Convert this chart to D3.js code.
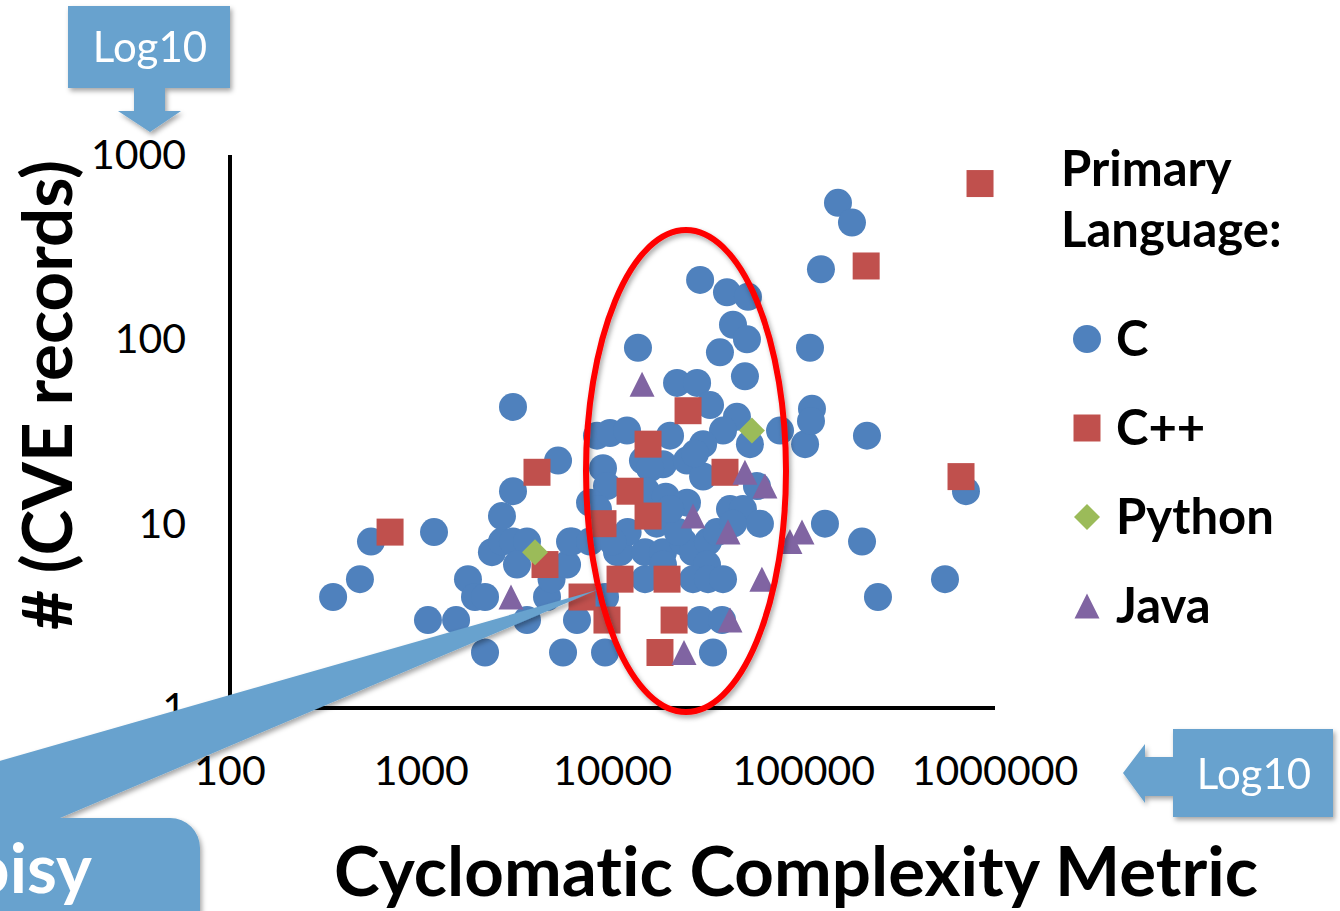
<!DOCTYPE html>
<html>
<head>
<meta charset="utf-8">
<script src="https://cdn.jsdelivr.net/npm/d3@7"></script>
<style>
  html, body { margin: 0; padding: 0; background: #fff; }
  svg { display: block; font-family: Lato, 'Open Sans', sans-serif; font-variant-ligatures: none; }
</style>
</head>
<body>
<svg id="chart" width="1340" height="911"></svg>
<script>
'use strict'

// tick values on the two log axes
const xTicks = [100, 1000, 10000, 100000, 1000000]
const yTicks = [1, 10, 100, 1000]

// C projects: cyclomatic complexity / CVE records
const cComplexity = [
  346, 478, 546, 1166, 1084, 1521, 1755, 1910, 2155, 2155, 2342, 2643, 2643, 3018,
  3018, 3018, 3573, 3167, 4546, 3573, 5192, 5513, 6144, 6520, 4800, 5786,
  5995, 7627, 8297, 9704, 11910, 8918, 9355, 7627, 8395, 9140, 9140, 10560, 10950,
  13590, 14430, 16680, 18360, 14790, 14790, 18360, 18360, 19990, 15710, 21750, 27690,
  32360, 28710, 39690, 51090, 42660, 50480, 36460, 49270, 44740, 37830, 29760,
  24520, 29760, 24520, 23380, 28710, 26360, 31570, 31200, 35170, 41140, 48090,
  52310, 59000, 56900, 42660, 26360, 31570, 37830, 28710, 37390, 33530, 27020,
  15000, 19000, 17000, 22000, 12000, 10000, 20000,
  75160, 101600, 110400, 109100, 107800, 123000, 151000, 178700, 129100, 201700,
  214100, 244400, 547700, 705000
]
const cCves = [
  4, 5, 8, 9, 3, 3, 5, 4, 4, 2, 7, 8, 11, 15,
  43, 8, 8, 6, 4, 3, 22, 2, 8, 3, 5, 6,
  8, 8, 30, 31, 32, 20, 16, 13, 12, 4, 2, 7, 7,
  90, 22, 21, 21, 5, 7, 7, 6, 30, 20, 58, 58,
  44, 210, 180, 170, 120, 100, 85, 63, 38, 32, 27,
  22, 18, 13, 8, 7, 7, 8, 6, 9, 12, 12,
  27, 10, 16, 10, 5, 5, 5, 3, 3, 2, 24,
  15, 14, 10, 9, 9, 8, 12,
  32, 27, 42, 36, 90, 240, 550, 430, 10, 8,
  30, 4, 5, 15
]

// C++ projects
const cppComplexity = [687, 4029, 4436, 6929, 9355, 8918, 12350, 15340, 15340, 24830,
  38740, 10950, 19280, 20990, 17710, 212000, 835000, 664200]
const cppCves = [9, 19, 6, 4, 3, 10, 15, 11, 27, 41, 19, 5, 5, 3, 2, 250, 700, 18]

// Python projects
const pyComplexity = [3935, 53580]
const pyCves = [7, 32]

// Java projects
const javaComplexity = [2946, 14270, 26360, 40170, 49270, 62660, 60420, 41140, 23660, 97900, 84700]
const javaCves = [4, 57, 11, 9, 19, 16, 5, 3, 2, 9, 8]

const languages = ['C', 'C++', 'Python', 'Java']
const colors = ['#4F81BD', '#C0504D', '#9BBB59', '#8064A2']

const svg = d3.select('#chart')
const calloutBlue = '#67A2CE'

const x = d3.scaleLog().domain([100, 1000000]).range([230, 995])
const y = d3.scaleLog().domain([1, 1000]).range([708, 155])

// drop shadow used by the callouts
const defs = svg.append('defs')
const shadow = defs.append('filter').attr('id', 'shadow')
  .attr('x', '-20%').attr('y', '-20%').attr('width', '140%').attr('height', '140%')
shadow.append('feDropShadow').attr('dx', 2).attr('dy', 3)
  .attr('stdDeviation', 2.5).attr('flood-color', '#000').attr('flood-opacity', 0.35)

// marker shapes, Excel style
const tri = {
  draw (ctx, size) {
    const h = Math.sqrt(size)
    ctx.moveTo(0, -h / 2)
    ctx.lineTo(h / 2, h / 2)
    ctx.lineTo(-h / 2, h / 2)
    ctx.closePath()
  }
}
const diamond = {
  draw (ctx, size) {
    const h = Math.sqrt(size) / 2
    ctx.moveTo(0, -h)
    ctx.lineTo(h, 0)
    ctx.lineTo(0, h)
    ctx.lineTo(-h, 0)
    ctx.closePath()
  }
}
const shapes = [
  d3.symbol().type(d3.symbolCircle).size(Math.PI * 14 * 14),
  d3.symbol().type(d3.symbolSquare).size(27 * 27),
  d3.symbol().type(diamond).size(26 * 26),
  d3.symbol().type(tri).size(25 * 25)
]

// axes (no tick marks, only the lines and labels)
svg.append('line').attr('x1', x(100)).attr('x2', x(100))
  .attr('y1', y(1000)).attr('y2', y(1) + 2)
  .attr('stroke', '#000').attr('stroke-width', 4)
svg.append('line').attr('x1', x(100) - 2).attr('x2', x(1000000))
  .attr('y1', y(1)).attr('y2', y(1))
  .attr('stroke', '#000').attr('stroke-width', 4)

svg.append('g').selectAll('text').data(xTicks).join('text')
  .attr('x', (d) => x(d)).attr('y', 785)
  .attr('text-anchor', 'middle')
  .attr('font-size', 41)
  .text((d) => d)

svg.append('g').selectAll('text').data(yTicks).join('text')
  .attr('x', 186).attr('y', (d) => y(d) + 14)
  .attr('text-anchor', 'end')
  .attr('font-size', 41)
  .text((d) => d)

svg.append('text')
  .attr('transform', 'translate(72, 395) rotate(-90)')
  .attr('text-anchor', 'middle')
  .attr('font-size', 69).attr('font-weight', 'bold')
  .text('# (CVE records)')

svg.append('text')
  .attr('x', 796).attr('y', 896)
  .attr('text-anchor', 'middle')
  .attr('font-size', 69).attr('font-weight', 'bold')
  .text('Cyclomatic Complexity Metric')

// points
const series = [
  [cComplexity, cCves],
  [cppComplexity, cppCves],
  [pyComplexity, pyCves],
  [javaComplexity, javaCves]
]
series.forEach(([xs, ys], i) => {
  svg.append('g').selectAll('path')
    .data(xs.map((v, k) => [v, ys[k]]))
    .join('path')
    .attr('transform', (d) => `translate(${x(d[0])},${y(d[1])})`)
    .attr('d', shapes[i])
    .attr('fill', colors[i])
})

// legend
const legend = svg.append('g').attr('font-weight', 'bold').attr('font-size', 49)
legend.append('text').attr('x', 1061).attr('y', 186).text('Primary')
legend.append('text').attr('x', 1061).attr('y', 247).text('Language:')
const items = legend.selectAll('g.item').data(languages).join('g')
  .attr('class', 'item')
  .attr('transform', (d, i) => `translate(1087, ${339 + i * 89})`)
items.append('path').attr('d', (d, i) => shapes[i]()).attr('fill', (d, i) => colors[i])
items.append('text').attr('x', 29).attr('y', 17).text((d) => d)

// red ellipse around the middle band
svg.append('ellipse')
  .attr('cx', 686).attr('cy', 471).attr('rx', 100).attr('ry', 241)
  .attr('fill', 'none').attr('stroke', '#FF0000').attr('stroke-width', 6)
  .attr('filter', 'url(#shadow)')

// "Log10" callout pointing at the y axis
const topCall = svg.append('g').attr('filter', 'url(#shadow)')
topCall.append('path')
  .attr('d', 'M68,6 H230 V88 H165 V111 H181 L150,132 L118,111 H134 V88 H68 Z')
  .attr('fill', calloutBlue)
topCall.append('text').attr('x', 150).attr('y', 62)
  .attr('text-anchor', 'middle').attr('font-size', 42).attr('fill', '#fff')
  .text('Log10')

// "Log10" callout pointing at the x axis
const rightCall = svg.append('g').attr('filter', 'url(#shadow)')
rightCall.append('path')
  .attr('d', 'M1173,729 H1333 V817 H1173 V796 H1145 V803 L1123,773 L1145,744 V757 H1173 Z')
  .attr('fill', calloutBlue)
rightCall.append('text').attr('x', 1254).attr('y', 789)
  .attr('text-anchor', 'middle').attr('font-size', 42).attr('fill', '#fff')
  .text('Log10')

// "Noisy" callout in the lower left corner (cut by the page edge, as in the original)
const noisy = svg.append('g').attr('filter', 'url(#shadow)')
noisy.append('path')
  .attr('d', 'M-200,818 L597,590 L60,818 H170 A30,30 0 0 1 200,848 V960 H-200 Z')
  .attr('fill', calloutBlue)
noisy.append('text').attr('x', 92).attr('y', 893)
  .attr('text-anchor', 'end').attr('font-size', 68).attr('font-weight', 'bold')
  .attr('fill', '#fff')
  .text('Noisy')
</script>
</body>
</html>
